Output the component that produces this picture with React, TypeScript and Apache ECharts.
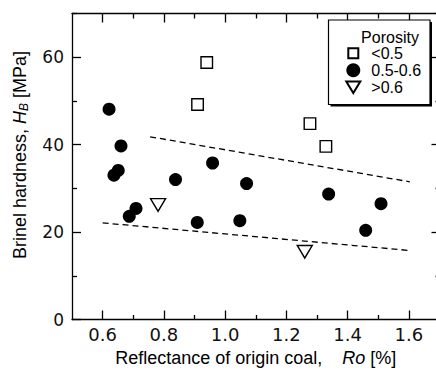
import React, { useEffect, useRef } from "react";
import * as echarts from "echarts";

const xMajorTicks = [0.6, 0.8, 1.0, 1.2, 1.4, 1.6];
const xMinorTicks = [0.7, 0.9, 1.1, 1.3, 1.5, 1.7];
const yMajorTicks = [0, 20, 40, 60];
const yMinorTicks = [10, 30, 50, 70];
const yRightMajor = [20, 40, 60];

const seriesNames = ["<0.5", "0.5-0.6", ">0.6"];

const porosityLow = [
  [0.94, 58.8],
  [0.91, 49.2],
  [1.277, 44.8],
  [1.329, 39.6],
];
const porosityMid = [
  [0.621, 48.1],
  [0.66, 39.7],
  [0.637, 33.0],
  [0.651, 34.1],
  [0.838, 32.0],
  [0.959, 35.8],
  [1.07, 31.1],
  [0.687, 23.6],
  [0.709, 25.4],
  [0.909, 22.2],
  [1.048, 22.6],
  [1.338, 28.7],
  [1.509, 26.5],
  [1.459, 20.4],
];
const porosityHigh = [
  [0.781, 26.2],
  [1.26, 15.5],
];
const trendUpper = [
  [0.755, 41.8],
  [1.603, 31.5],
];
const trendLower = [
  [0.6, 22.1],
  [1.6, 15.8],
];

const AX = { color: "#000", width: 1.3 };
const TICK_FONT = "DejaVu Sans";
const TEXT_FONT = "Liberation Sans";

const SQUARE_ICON = "path://M0,0M14,14M2,2L12,2L12,12L2,12Z";
const TRIANGLE_SYMBOL = "path://M0,0L16,0L8,13Z";
const TRIANGLE_ICON = "path://M0,-1.5M0,14.5M0,0L16,0L8,13Z";

export default function App() {
  const ref = useRef<HTMLDivElement>(null);
  useEffect(() => {
    if (!ref.current) return;
    const chart = echarts.init(ref.current, undefined, { renderer: "svg" });
    const xBase = {
      type: "value" as const,
      min: 0.5,
      max: 1.7,
      splitLine: { show: false },
    };
    const yBase = {
      type: "value" as const,
      min: 0,
      max: 70,
      splitLine: { show: false },
    };
    chart.setOption({
      animation: false,
      grid: { left: 72, top: 13.5, width: 367.5, height: 306, outerBoundsMode: "none" },
      xAxis: [
        {
          ...xBase,
          position: "bottom",
          axisLine: { onZero: false, lineStyle: AX },
          axisTick: { inside: true, length: 9, customValues: xMajorTicks, lineStyle: AX },
          axisLabel: {
            customValues: xMajorTicks,
            formatter: (v: number) => v.toFixed(1),
            margin: 6,
            fontFamily: TICK_FONT,
            fontSize: 18,
            color: "#111",
          },
          name: "{n|Reflectance of origin coal,    }{i|Ro}{n| [%]}",
          nameLocation: "middle",
          nameGap: 29,
          nameTextStyle: {
            rich: {
              n: { fontFamily: TEXT_FONT, fontSize: 18, color: "#000" },
              i: { fontFamily: TEXT_FONT, fontSize: 18, fontStyle: "italic", color: "#000" },
            },
          },
        },
        {
          ...xBase,
          position: "bottom",
          axisLine: { show: false, onZero: false },
          axisTick: { inside: true, length: 4.5, customValues: xMinorTicks, lineStyle: AX },
          axisLabel: { show: false },
        },
        {
          ...xBase,
          position: "top",
          axisLine: { onZero: false, lineStyle: AX },
          axisTick: { inside: true, length: 9, customValues: xMajorTicks, lineStyle: AX },
          axisLabel: { show: false },
        },
        {
          ...xBase,
          position: "top",
          axisLine: { show: false, onZero: false },
          axisTick: { inside: true, length: 5, customValues: xMinorTicks, lineStyle: AX },
          axisLabel: { show: false },
        },
      ],
      yAxis: [
        {
          ...yBase,
          position: "left",
          axisLine: { onZero: false, lineStyle: AX },
          axisTick: { inside: true, length: 9, customValues: yMajorTicks, lineStyle: AX },
          axisLabel: {
            customValues: yMajorTicks,
            margin: 8,
            fontFamily: TICK_FONT,
            fontSize: 17,
            color: "#111",
          },
        },
        {
          ...yBase,
          position: "left",
          axisLine: { show: false, onZero: false },
          axisTick: { inside: true, length: 5, customValues: yMinorTicks, lineStyle: AX },
          axisLabel: { show: false },
        },
        {
          ...yBase,
          position: "right",
          axisLine: { onZero: false, lineStyle: AX },
          axisTick: { inside: true, length: 8, customValues: yRightMajor, lineStyle: AX },
          axisLabel: { show: false },
        },
        {
          ...yBase,
          position: "right",
          axisLine: { show: false, onZero: false },
          axisTick: { inside: true, length: 4, customValues: yMinorTicks, lineStyle: AX },
          axisLabel: { show: false },
        },
      ],
      legend: {
        data: [
          { name: seriesNames[0], icon: SQUARE_ICON },
          { name: seriesNames[1], icon: "circle" },
          { name: seriesNames[2], icon: TRIANGLE_ICON },
        ],
        orient: "vertical",
        left: 345.3,
        top: 44.8,
        padding: 0,
        itemGap: 0,
        itemWidth: 14,
        itemHeight: 14,
        selectedMode: false,
        z: 5,
        textStyle: {
          fontFamily: TEXT_FONT,
          fontSize: 16,
          lineHeight: 17,
          color: "#000",
          padding: [0, 0, 0, 6],
        },
      },
      graphic: [
        {
          type: "rect",
          z: 3,
          silent: true,
          shape: { x: 330.5, y: 22, width: 101.5, height: 84.5 },
          style: { fill: "#000" },
        },
        {
          type: "rect",
          z: 3,
          silent: true,
          shape: { x: 328.5, y: 20, width: 101.5, height: 84.5 },
          style: { fill: "#fff", stroke: "#000", lineWidth: 1.2 },
        },
        {
          type: "text",
          z: 10,
          x: 390,
          y: 37.5,
          style: {
            text: "Porosity",
            fontFamily: TEXT_FONT,
            fontSize: 16,
            fill: "#000",
            align: "center",
            verticalAlign: "middle",
          },
        },
        {
          type: "text",
          z: 10,
          x: 20,
          y: 155,
          rotation: Math.PI / 2,
          style: {
            text: "{n|Brinel hardness, }{i|H}{s|B}{n| [MPa]}",
            align: "center",
            verticalAlign: "middle",
            fill: "#000",
            rich: {
              n: { fontFamily: TEXT_FONT, fontSize: 18, fill: "#000" },
              i: { fontFamily: TEXT_FONT, fontSize: 18, fontStyle: "italic", fill: "#000" },
              s: {
                fontFamily: TEXT_FONT,
                fontSize: 12,
                fontStyle: "italic",
                fill: "#000",
                padding: [8, 0, 0, 0],
              },
            },
          },
        },
      ],
      series: [
        {
          type: "line",
          name: "trendUpper",
          data: trendUpper,
          symbol: "none",
          silent: true,
          lineStyle: { color: "#000", width: 1.3, type: [6, 4] },
          z: 1,
        },
        {
          type: "line",
          name: "trendLower",
          data: trendLower,
          symbol: "none",
          silent: true,
          lineStyle: { color: "#000", width: 1.3, type: [6, 4] },
          z: 1,
        },
        {
          type: "scatter",
          name: seriesNames[0],
          data: porosityLow,
          symbol: "rect",
          symbolSize: 11.5,
          silent: true,
          itemStyle: { color: "#fff", borderColor: "#000", borderWidth: 1.4, opacity: 1 },
        },
        {
          type: "scatter",
          name: seriesNames[1],
          data: porosityMid,
          symbol: "circle",
          symbolSize: 13,
          silent: true,
          itemStyle: { color: "#000", opacity: 1 },
        },
        {
          type: "scatter",
          name: seriesNames[2],
          data: porosityHigh,
          symbol: TRIANGLE_SYMBOL,
          symbolSize: [15, 12.5],
          silent: true,
          itemStyle: { color: "#fff", borderColor: "#000", borderWidth: 1.4, opacity: 1 },
        },
      ],
    });
    return () => chart.dispose();
  }, []);
  return (
    <div
      ref={ref}
      style={{ position: "absolute", left: 0, top: 0, width: 436, height: 374, background: "#fff" }}
    />
  );
}
